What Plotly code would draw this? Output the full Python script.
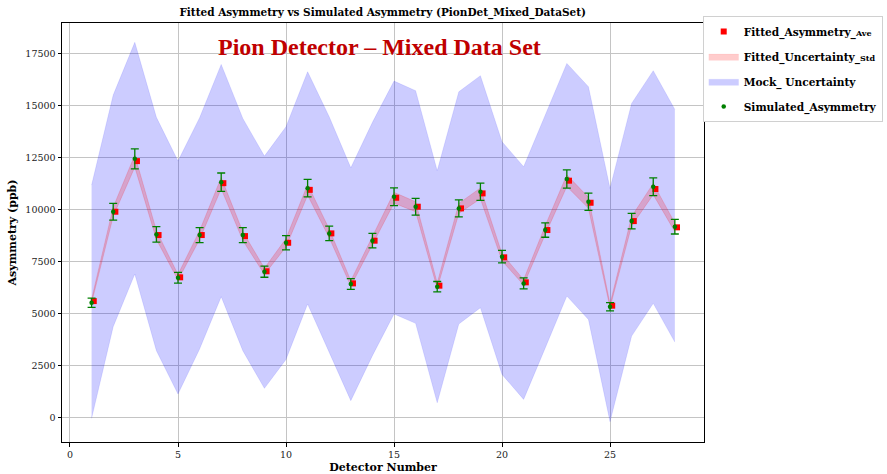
import plotly.graph_objects as go

detectors = [1, 2, 3, 4, 5, 6, 7, 8, 9, 10, 11, 12, 13, 14,
             15, 16, 17, 18, 19, 20, 21, 22, 23, 24, 25, 26, 27, 28]
simulated = [5520, 9890, 12430, 8800, 6720, 8770, 11310, 8770, 7010, 8400, 11020, 8850, 6420, 8500,
             10610, 10130, 6290, 10050, 10850, 7730, 6450, 9010, 11460, 10370, 5330, 9440, 11090, 9170]
sim_err = [225, 400, 480, 370, 260, 360, 440, 360, 265, 340, 420, 350, 260, 350,
           425, 400, 250, 410, 415, 300, 265, 345, 440, 415, 200, 375, 425, 350]
fitted = [5600, 9890, 12320, 8770, 6740, 8770, 11260, 8720, 7030, 8400, 10940, 8850, 6450, 8500,
          10560, 10130, 6340, 10050, 10770, 7700, 6500, 9010, 11380, 10320, 5380, 9440, 10980, 9140]
fitted_std = [90, 220, 290, 210, 140, 210, 270, 210, 150, 200, 260, 210, 130, 200,
              260, 240, 130, 240, 260, 170, 130, 210, 280, 260, 90, 220, 270, 210]
mock_upper = [11170, 15490, 18020, 14420, 12320, 14400, 16960, 14370, 12560, 13970, 16610, 14450, 12000, 14180,
              16160, 15700, 11860, 15650, 16420, 13250, 12050, 14510, 17010, 15890, 11010, 15090, 16660, 14800]
mock_lower = [-30, 4370, 6900, 3220, 1140, 3300, 5810, 3220, 1410, 2800, 5460, 3170, 820, 2980,
              4980, 4530, 720, 4500, 5280, 2080, 880, 3350, 5840, 4720, -190, 3920, 5490, 3630]
fitted_x_offset = 0.1

serif = "DejaVu Serif"

fig = go.Figure()

# Mock uncertainty band
fig.add_trace(go.Scatter(x=detectors, y=mock_lower, mode="lines",
                         line=dict(width=0.5, color="rgba(0,0,255,0.2)"),
                         showlegend=False, legendgroup="mock", hoverinfo="skip"))
fig.add_trace(go.Scatter(x=detectors, y=mock_upper, mode="lines", fill="tonexty",
                         fillcolor="rgba(0,0,255,0.2)",
                         line=dict(width=0.5, color="rgba(0,0,255,0.2)"),
                         name="Mock_ Uncertainty", legendgroup="mock", legendrank=3))

# Fitted uncertainty band
fit_lo = [f - s for f, s in zip(fitted, fitted_std)]
fit_hi = [f + s for f, s in zip(fitted, fitted_std)]
fig.add_trace(go.Scatter(x=detectors, y=fit_lo, mode="lines",
                         line=dict(width=0.8, color="rgba(255,0,0,0.2)"),
                         showlegend=False, legendgroup="fstd", hoverinfo="skip"))
fig.add_trace(go.Scatter(x=detectors, y=fit_hi, mode="lines", fill="tonexty",
                         fillcolor="rgba(255,0,0,0.2)",
                         line=dict(width=0.8, color="rgba(255,0,0,0.2)"),
                         name="Fitted_Uncertainty_<span style='font-size:8px'>Std</span>",
                         legendgroup="fstd", legendrank=2))

# Fitted asymmetry points
fig.add_trace(go.Scatter(x=[d + fitted_x_offset for d in detectors], y=fitted, mode="markers",
                         marker=dict(symbol="square", size=6, color="red"),
                         name="Fitted_Asymmetry_<span style='font-size:8px'>Ave</span>",
                         legendgroup="fave", legendrank=1))

# Simulated asymmetry with error bars
fig.add_trace(go.Scatter(x=detectors, y=simulated, mode="markers",
                         marker=dict(symbol="circle", size=4.5, color="green"),
                         error_y=dict(type="data", array=sim_err, visible=True,
                                      color="green", thickness=1.3, width=4),
                         name="Simulated_Asymmetry", legendgroup="sim", legendrank=4))

fig.add_annotation(text="Pion Detector – Mixed Data Set", xref="paper", yref="paper",
                   x=0.4945, y=0.943, xanchor="center", yanchor="middle", showarrow=False,
                   font=dict(family="Liberation Serif", size=24, color="#C00000", weight="bold"))

axis_common = dict(showgrid=True, gridcolor="#c4c4c4", gridwidth=1, zeroline=False,
                   showline=True, linecolor="black", linewidth=1, mirror=True,
                   ticks="outside", ticklen=3.5, tickcolor="black",
                   tickfont=dict(family=serif, size=9.5, color="#222"))

fig.update_layout(
    width=887, height=474,
    margin=dict(l=62, r=183, t=23, b=32, autoexpand=False),
    paper_bgcolor="white", plot_bgcolor="white",
    title=dict(text="<b>Fitted Asymmetry vs Simulated Asymmetry (PionDet_Mixed_DataSet)</b>",
               x=0.4315, xanchor="center", y=1 - 12 / 474, yanchor="middle", yref="container",
               font=dict(family=serif, size=10.5, color="black")),
    xaxis=dict(range=[-0.37, 29.35], tickvals=[0, 5, 10, 15, 20, 25],
               title=dict(text="<b>Detector Number</b>", standoff=4,
                          font=dict(family=serif, size=11, color="black")),
               **axis_common),
    yaxis=dict(range=[-1165, 18950], tickvals=[0, 2500, 5000, 7500, 10000, 12500, 15000, 17500],
               tickformat="d",
               title=dict(text="<b>Asymmetry (ppb)</b>", standoff=6,
                          font=dict(family=serif, size=11, color="black")),
               **axis_common),
    legend=dict(x=0.998, xanchor="left", y=1.017, yanchor="top",
                bgcolor="white", bordercolor="#d0d0d0", borderwidth=1,
                font=dict(family=serif, size=10.6, color="black", weight="bold"),
                itemwidth=30, tracegroupgap=6),
    showlegend=True,
)

fig.write_html("out.html")
